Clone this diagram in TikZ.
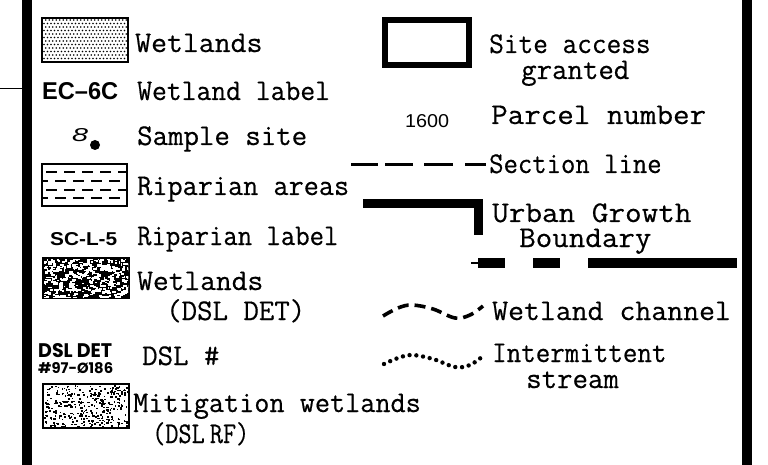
\documentclass[tikz,border=0pt]{standalone}
\usepackage{fontspec}
\newfontfamily\sansL{Liberation Sans}
\newfontfamily\geo{Poppins}
\newfontfamily\monoB[FakeBold=0.5]{Latin Modern Mono}
\newcommand{\sx}[2]{\scalebox{#1}[1]{#2}}
\begin{document}
\begin{tikzpicture}[x=1pt,y=-1pt,
  lbl/.style={anchor=base west, inner sep=0pt, text height=17pt, text depth=0pt, font=\fontsize{30}{32}\selectfont\monoB},
  codetxt/.style={anchor=base west, inner sep=0pt, text depth=0pt},
  frame/.style={fill=black},
  boxedge/.style={draw=black, line width=2pt}]
\useasboundingbox (0,0) rectangle (768,465);
% frame bars
\fill[frame] (22,0) rectangle (32,465);
\fill[frame] (742,0) rectangle (752,465);
\coordinate (tl) at (0,89);
\coordinate (tr) at (22,89);
\draw[line width=1pt] (tl) -- (tr);

% ---- Wetlands (dotted)
\foreach \yy [count=\r] in {20,23.5,...,60}{
  \pgfmathsetmacro{\off}{mod(\r,2)*1.75}
  \foreach \xx in {44,47.5,...,126}{
    \fill (\xx+\off,\yy) circle (0.85pt);
  }
}
\draw[boxedge] (42,18) rectangle (128,62);
\node[lbl] (wet) at (135,52) {\sx{1.03}{Wetlands}};

% ---- EC-6C
\node[codetxt] (ec) at (42,100) {\resizebox{76pt}{17pt}{\sansL\bfseries EC–6C}};
\node[lbl] (wl) at (137,100) {\sx{0.96}{Wetland label}};

% ---- Sample site
\node[codetxt] (eight) at (72,142) {\resizebox{16pt}{13pt}{\sansL\itshape 8}};
\fill (95,145) circle (5pt);
\node[lbl] (ss) at (137,145) {Sample site};

% ---- Riparian areas
\begin{scope}
\clip (43,165) rectangle (126,205);
\foreach \yy/\st in {172/46, 181/37, 190/46, 198/37}{
  \foreach \xx in {0,18,...,90}{
    \draw[line width=1.4pt] (\st+\xx,\yy) -- (\st+\xx+11,\yy);
  }
}
\end{scope}
\draw[boxedge] (42,164) rectangle (127,206);
\node[lbl] (ra) at (137,195) {\sx{0.98}{Riparian areas}};

% ---- SC-L-5
\node[codetxt] (sc) at (50,245) {\resizebox{67pt}{13pt}{\sansL\bfseries SC-L-5}};
\node[lbl] (rl) at (137,245) {\sx{0.93}{Riparian label}};

% ---- Wetlands (DSL DET) noise
\fill (42,257) rectangle (130,299);
\begin{scope}
\clip (44,259) rectangle (128,297);
\pgfmathsetseed{11}
\foreach \i in {1,...,420}{
  \pgfmathsetmacro{\rx}{43+86*rnd}
  \pgfmathsetmacro{\ry}{258+40*rnd}
  \pgfmathsetmacro{\rw}{1.2+3*rnd}
  \pgfmathsetmacro{\rh}{1+2*rnd}
  \fill[white] (\rx,\ry) rectangle (\rx+\rw,\ry+\rh);
}
\end{scope}
\node[lbl] (wd) at (137,290) {\sx{1.02}{Wetlands}};
\node[lbl] (wd2) at (166,320) {(DSL DET)};

% ---- DSL DET label
\node[codetxt] (dd1) at (38,357) {\resizebox{74pt}{14pt}{\geo\bfseries DSL DET}};
\node[codetxt] (dd2) at (38,373) {\resizebox{75pt}{11pt}{\geo\bfseries \#97-Ø186}};
\node[lbl] (dn) at (142,365) {DSL \#};

% ---- Mitigation wetlands
\draw[boxedge] (43,384) rectangle (129,428);
\begin{scope}
\clip (44,385) rectangle (128,427);
\pgfmathsetseed{5}
\foreach \i in {1,...,330}{
  \pgfmathsetmacro{\rx}{44+84*rnd}
  \pgfmathsetmacro{\ry}{385+42*rnd}
  \pgfmathsetmacro{\rw}{1+1.6*rnd}
  \fill (\rx,\ry) rectangle (\rx+\rw,\ry+1.6);
}
\end{scope}
\node[lbl] (mw) at (133,412) {\sx{0.98}{Mitigation wetlands}};
\node[lbl] (mw2) at (152,443) {\sx{0.85}{(DSL\hspace{6pt}RF)}};

% ================= right column
\draw[line width=6pt] (385,20) rectangle (469,65);
\node[lbl] (sa) at (489,53) {\sx{0.95}{Site access}};
\node[lbl] (sa2) at (521,79) {granted};

\node[codetxt] (pn) at (405,128) {\resizebox{44pt}{13pt}{\sansL 1600}};
\node[lbl] (pn2) at (491,124) {\sx{1.07}{Parcel number}};

% section line
\foreach \a/\b in {351/378, 385/413, 424/453, 465/486}{
  \draw[line width=3pt] (\a,165) -- (\b,165);
}
\node[lbl] (sl) at (489,173) {\sx{0.93}{Section line}};

% urban growth boundary
\draw[line width=9pt, miter limit=10] (363,204) -- (478,204) -- (478,235);
\node[lbl] (ug) at (492,222) {\sx{1.075}{Urban Growth}};
\node[lbl] (ug2) at (519,247) {\sx{1.07}{Boundary}};
\draw[line width=1.2pt] (471,263) -- (478,263);
\fill (478,258) rectangle (505,268);
\fill (533,258) rectangle (560,268);
\fill (588,258) rectangle (737,268);

% wetland channel
\draw[line width=3.6pt, dash pattern=on 11pt off 6pt]
  plot[smooth, tension=0.6] coordinates {(383,316) (398,308) (412,305) (433,309) (455,318) (470,315) (483,306)};
\node[lbl] (wc) at (492,320) {\sx{1.03}{Wetland channel}};

% intermittent stream
\draw[line width=4.4pt, line cap=round, dash pattern=on 0pt off 6.8pt]
  plot[smooth, tension=0.6] coordinates {(384,364) (398,358) (412,355) (433,359) (455,367) (470,365) (483,356)};
\node[lbl] (is) at (492,362) {\sx{0.94}{Intermittent}};
\node[lbl] (is2) at (526,388) {stream};
\end{tikzpicture}
\end{document}
